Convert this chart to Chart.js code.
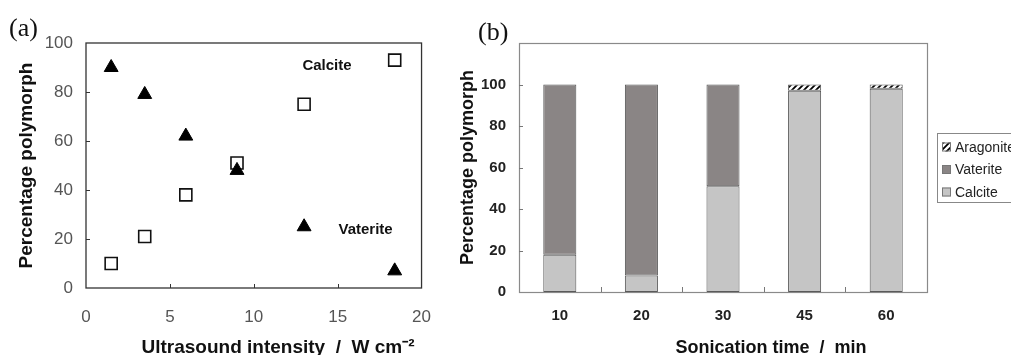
<!DOCTYPE html>
<html><head><meta charset="utf-8">
<script src="https://cdn.jsdelivr.net/npm/chart.js@4"></script>
<style>
html,body{margin:0;padding:0;background:#fff;overflow:hidden;width:1011px;height:355px;}
#wa{position:absolute;left:0;top:0;width:450px;height:355px;}
#wb{position:absolute;left:450px;top:0;width:561px;height:355px;}
.lab{position:absolute;font-family:"Liberation Serif","DejaVu Serif",serif;font-size:26px;color:#111;line-height:1;}
</style></head><body>
<div id="wa"><canvas id="ca" width="450" height="355"></canvas></div>
<div id="wb"><canvas id="cb" width="561" height="355"></canvas></div>
<div class="lab" style="left:9px;top:15px">(a)</div>
<div class="lab" style="left:478px;top:19px">(b)</div>
<script>
// ---- Panel (a) data ----
const intensity = [1.5, 3.5, 5.95, 9, 13, 18.4];
const calciteA = [10, 21, 38, 51, 75, 93];
const vateriteA = [90, 79, 62, 48, 25, 7];
const xTicksA = [0, 5, 10, 15, 20];
const yTicksA = [0, 20, 40, 60, 80, 100];
const annotTextA = ['Calcite', 'Vaterite'];
// ---- Panel (b) data ----
const times = ['10', '20', '30', '45', '60'];
const calciteB = [18, 8, 51, 97, 98];
const vateriteB = [82, 92, 49, 0, 0];
const aragoniteB = [0, 0, 0, 3, 2];
const yTicksB = [0, 20, 40, 60, 80, 100];

const SANS = '"Liberation Sans", Arial, sans-serif';
const annotPosA = [{x: 12.9, y: 90.5}, {x: 15.05, y: 23.8}];
const nz = arr => arr.map(v => (v === 0 ? null : v));

function makeHatch(){
  const c = document.createElement('canvas'); c.width = 6; c.height = 6;
  const g = c.getContext('2d');
  g.fillStyle = '#fff'; g.fillRect(0,0,6,6);
  g.strokeStyle = '#000'; g.lineWidth = 1.8; g.lineCap='square';
  g.beginPath();
  g.moveTo(0,6); g.lineTo(6,0);
  g.moveTo(-3,3); g.lineTo(3,-3);
  g.moveTo(3,9); g.lineTo(9,3);
  g.stroke();
  return g.createPattern(c, 'repeat');
}
const hatch = makeHatch();

const plugA = {
  id: 'plugA',
  afterDatasetsDraw(chart){
    const {ctx, chartArea: a, scales: {x, y}} = chart;
    ctx.save();
    ctx.strokeStyle = '#333'; ctx.lineWidth = 1.3;
    ctx.strokeRect(a.left, a.top, a.right - a.left, a.bottom - a.top);
    ctx.lineWidth = 1;
    ctx.beginPath();
    xTicksA.slice(1, -1).forEach(v => {
      const px = Math.round(x.getPixelForValue(v)) + 0.5;
      ctx.moveTo(px, a.bottom); ctx.lineTo(px, a.bottom - 4);
    });
    yTicksA.slice(1, -1).forEach(v => {
      const py = Math.round(y.getPixelForValue(v)) + 0.5;
      ctx.moveTo(a.left, py); ctx.lineTo(a.left + 4, py);
    });
    ctx.stroke();
    ctx.fillStyle = '#111';
    ctx.font = 'bold 15px ' + SANS;
    ctx.textBaseline = 'middle'; ctx.textAlign = 'left';
    annotTextA.forEach((t, i) => {
      ctx.fillText(t, x.getPixelForValue(annotPosA[i].x), y.getPixelForValue(annotPosA[i].y));
    });
    ctx.font = 'bold 19px ' + SANS;
    ctx.textAlign = 'center';
    ctx.fillText('Ultrasound intensity  /  W cm\u207B\u00B2', 278, 348);
    ctx.restore();
  }
};

new Chart(document.getElementById('ca'), {
  type: 'scatter',
  data: {datasets: [
    {label: 'Vaterite', data: intensity.map((v, i) => ({x: v, y: vateriteA[i]})),
     pointStyle: 'triangle', radius: 8, backgroundColor: '#000', borderColor: '#000', borderWidth: 1},
    {label: 'Calcite', data: intensity.map((v, i) => ({x: v, y: calciteA[i]})),
     pointStyle: 'rect', radius: 8.5, backgroundColor: '#fff', borderColor: '#111', borderWidth: 1.6}
  ]},
  options: {
    responsive: false, animation: false, events: [],
    layout: {padding: {top: 43, right: 28, bottom: 0, left: 0}},
    plugins: {legend: {display: false}, tooltip: {enabled: false}},
    scales: {
      x: {type: 'linear', min: 0, max: 20,
          afterBuildTicks: s => { s.ticks = xTicksA.map(v => ({value: v})); },
          ticks: {padding: 19, font: {family: SANS, size: 17}, color: '#555'},
          grid: {display: false, drawTicks: false}, border: {display: false},
          afterFit: s => { s.height = 67; }},
      y: {min: 0, max: 100,
          afterBuildTicks: s => { s.ticks = yTicksA.map(v => ({value: v})); },
          ticks: {padding: 13, font: {family: SANS, size: 17}, color: '#555'},
          grid: {display: false, drawTicks: false}, border: {display: false},
          title: {display: true, text: 'Percentage polymorph', color: '#111',
                  font: {family: SANS, size: 19, weight: 'bold'}, padding: {top: 15, bottom: 0}},
          afterFit: s => { s.width = 86; }}
    }
  },
  plugins: [plugA]
});

const plugB = {
  id: 'plugB',
  afterDatasetsDraw(chart){
    const {ctx, chartArea: a, scales: {x, y}} = chart;
    ctx.save();
    ctx.strokeStyle = '#8a8a8a'; ctx.lineWidth = 1.2;
    ctx.strokeRect(a.left + 0.5, a.top + 0.5, a.right - a.left, a.bottom - a.top);
    ctx.strokeStyle = '#777'; ctx.lineWidth = 1;
    ctx.beginPath();
    for (let i = 1; i < times.length; i++) {
      const px = Math.round((x.getPixelForTick(i - 1) + x.getPixelForTick(i)) / 2) + 0.5;
      ctx.moveTo(px, a.bottom); ctx.lineTo(px, a.bottom - 5);
    }
    yTicksB.slice(1).forEach(v => {
      const py = Math.round(y.getPixelForValue(v)) + 0.5;
      ctx.moveTo(a.left, py); ctx.lineTo(a.left + 4, py);
    });
    ctx.stroke();
    ctx.fillStyle = '#111';
    ctx.font = 'bold 18px ' + SANS;
    ctx.textAlign = 'center'; ctx.textBaseline = 'middle';
    ctx.fillText('Sonication time  /  min', 321, 348);
    // legend
    const lx = 487, ly = 133, lw = 140, lh = 69;
    ctx.strokeStyle = '#888'; ctx.lineWidth = 1;
    ctx.strokeRect(lx + 0.5, ly + 0.5, lw, lh);
    const ds = chart.data.datasets.slice().reverse();
    ctx.font = '14px ' + SANS; ctx.textAlign = 'left';
    ds.forEach((d, i) => {
      const cy = ly + 14 + i * 22.5;
      ctx.fillStyle = d.backgroundColor;
      ctx.fillRect(lx + 5, cy - 4.5, 9, 9);
      ctx.strokeStyle = '#777';
      ctx.strokeRect(lx + 5.5, cy - 4, 8, 8);
      ctx.fillStyle = '#222';
      ctx.fillText(d.label, lx + 18, cy + 1);
    });
    ctx.restore();
  }
};

new Chart(document.getElementById('cb'), {
  type: 'bar',
  data: {labels: times, datasets: [
    {label: 'Calcite', data: nz(calciteB), backgroundColor: '#c5c5c5'},
    {label: 'Vaterite', data: nz(vateriteB), backgroundColor: '#8a8585'},
    {label: 'Aragonite', data: nz(aragoniteB), backgroundColor: hatch}
  ]},
  options: {
    responsive: false, animation: false, events: [],
    layout: {padding: {top: 43, right: 84, bottom: 0, left: 0}},
    datasets: {bar: {barPercentage: 0.405, categoryPercentage: 1, borderColor: '#555', borderWidth: 1, borderSkipped: false}},
    plugins: {legend: {display: false}, tooltip: {enabled: false}},
    scales: {
      x: {stacked: true,
          ticks: {padding: 15, font: {family: SANS, size: 15, weight: 'bold'}, color: '#222'},
          grid: {display: false, drawTicks: false}, border: {display: false},
          afterFit: s => { s.height = 63; }},
      y: {stacked: true, min: 0, max: 120,
          afterBuildTicks: s => { s.ticks = yTicksB.map(v => ({value: v})); },
          ticks: {padding: 13, font: {family: SANS, size: 15, weight: 'bold'}, color: '#222'},
          grid: {display: false, drawTicks: false}, border: {display: false},
          title: {display: true, text: 'Percentage polymorph', color: '#111',
                  font: {family: SANS, size: 18, weight: 'bold'}, padding: {top: 7, bottom: 0}},
          afterFit: s => { s.width = 69; }}
    }
  },
  plugins: [plugB]
});
</script>
</body></html>
